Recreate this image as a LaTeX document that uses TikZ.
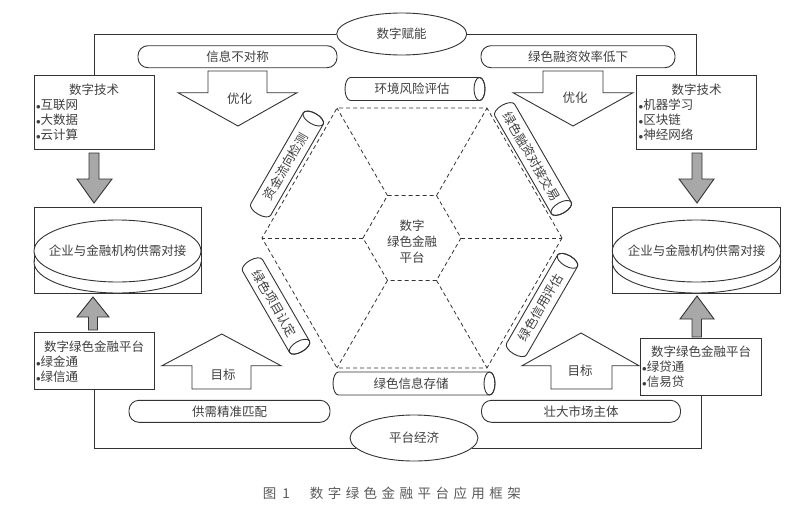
\documentclass[tikz,border=0pt]{standalone}
\usepackage{fontspec}
\setmainfont{Noto Sans CJK SC}
\usetikzlibrary{shapes.geometric}
\definecolor{ln}{HTML}{333333}
\definecolor{tx}{HTML}{404040}
\definecolor{gr}{HTML}{A8A8A8}
\definecolor{capc}{HTML}{5A5A5A}
\newcommand\mybul{{\small$\bullet$}}
% name, center, angle, length, text
\newcommand\mycyl[5]{%
 \begin{scope}[shift={#2}, rotate=#3]
  \pgfmathsetmacro\cylhh{#4/2}
  \draw[lnk, fill=white] (-\cylhh+5.5,-11.5) -- (\cylhh-5.5,-11.5)
     arc[start angle=90, end angle=-90, x radius=5.5pt, y radius=11.5pt]
     -- (-\cylhh+5.5,11.5)
     arc[start angle=270, end angle=90, x radius=5.5pt, y radius=11.5pt] -- cycle;
  \draw[lnk] (\cylhh-5.5,0) ellipse [x radius=5.5pt, y radius=11.5pt];
  \node[lbl, rotate=#3] (#1) at (-3,0) {#5};
 \end{scope}}
\begin{document}
\begin{tikzpicture}[x=1pt,y=-1pt,
  every node/.style={font=\fontsize{12.5}{15}\selectfont},
  lnk/.style={draw=ln, line width=0.9pt},
  box/.style={draw=ln, line width=0.9pt, rectangle, text=tx, inner xsep=2pt, inner ysep=0pt, align=left},
  pill/.style={draw=ln, line width=0.9pt, rectangle, rounded corners=10pt, minimum height=22, text=tx, inner sep=0pt},
  ell/.style={draw=ln, line width=0.9pt, ellipse, fill=white, inner sep=0pt, text=tx},
  lbl/.style={text=tx, inner sep=0pt},
  hollow/.style={draw=ln, line width=0.9pt, fill=white},
  solidarr/.style={draw=ln, line width=0.9pt, fill=gr},
  hexln/.style={draw=ln, line width=0.8pt, dash pattern=on 4pt off 3pt}]
\fill[white] (0,0) rectangle (800,506);
\useasboundingbox (0,0) rectangle (800,506);

% top / bottom ellipses
\node[ell, minimum width=130, minimum height=42] (fn) at (401.7,34) {数字赋能};
\node[ell, minimum width=128, minimum height=46] (pj) at (414,438) {平台经济};

% side boxes
\node[box, text width=116pt, minimum height=74] (dtL) at (94,112)
  {{\centering 数字技术\par}\mybul 互联网\par\mybul 大数据\par\mybul 云计算};
\node[box, text width=116pt, minimum height=74] (dtR) at (696.7,112)
  {{\centering 数字技术\par}\mybul 机器学习\par\mybul 区块链\par\mybul 神经网络};
\node[box, text width=116pt, minimum height=57] (ptL) at (94,361.4)
  {{\centering 数字绿色金融平台\par}\mybul 绿金通\par\mybul 绿信通};
\node[box, text width=117.7pt, minimum height=57] (ptR) at (701,366.5)
  {{\centering 数字绿色金融平台\par}\mybul 绿贷通\par\mybul 信易贷};

% frame connectors
\draw[lnk] (dtL.north) |- (fn.west);
\draw[lnk] (fn.east) -| (dtR.north);
\draw[lnk] (ptL.south) |- (pj.190);
\draw[lnk] (pj.350) -| (ptR.south);

% middle boxes with discs
\node[draw=ln, line width=0.9pt, minimum width=167, minimum height=86, inner sep=0pt] (gxL) at (117.5,250) {};
\draw[lnk, fill=white] (117.5,262) ellipse [x radius=83.5pt, y radius=31pt];
\fill[white] (34,251) rectangle (201,262);
\draw[lnk] (34,251) -- (34,262) (201,251) -- (201,262);
\node[ell, minimum width=167, minimum height=62] (gxLe) at (117.5,251) {};
\node[lbl] (gxLt) at (gxLe) {企业与金融机构供需对接};

\node[draw=ln, line width=0.9pt, minimum width=168.4, minimum height=86, inner sep=0pt] (gxR) at (696.5,250) {};
\draw[lnk, fill=white] (696.5,262) ellipse [x radius=84.2pt, y radius=31pt];
\fill[white] (612.3,251) rectangle (780.7,262);
\draw[lnk] (612.3,251) -- (612.3,262) (780.7,251) -- (780.7,262);
\node[ell, minimum width=168.4, minimum height=62] (gxRe) at (696.5,251) {};
\node[lbl] (gxRt) at (gxRe) {企业与金融机构供需对接};

% gray arrows
\draw[solidarr] (89,153) -- (99,153) -- (99,179) -- (112,179) -- (94,203) -- (77,179) -- (89,179) -- cycle;
\draw[solidarr] (88.5,330) -- (97.5,330) -- (97.5,317) -- (109,317) -- (93,297) -- (77,317) -- (88.5,317) -- cycle;
\draw[solidarr] (692,153) -- (702,153) -- (702,179) -- (714,179) -- (697,203) -- (679,179) -- (692,179) -- cycle;
\draw[solidarr] (692,337) -- (701.5,337) -- (701.5,319) -- (714,319) -- (697,296) -- (680,319) -- (692,319) -- cycle;

% pills
\node[pill, minimum width=199] (xx) at (237.5,56.7) {信息不对称};
\node[pill, minimum width=194] (rz) at (578,56.7) {绿色融资效率低下};
\node[pill, minimum width=201] (gp) at (229.5,411.3) {供需精准匹配};
\node[pill, minimum width=199] (zd) at (581,411.3) {壮大市场主体};

% hollow arrows
\draw[hollow] (208,71) -- (267,71) -- (267,92.7) -- (297,92.7) -- (238,126) -- (178,92.7) -- (208,92.7) -- cycle;
\draw[hollow] (543,71) -- (603,71) -- (603,92.7) -- (633,92.7) -- (573,126) -- (513,92.7) -- (543,92.7) -- cycle;
\draw[hollow] (192,389) -- (251,389) -- (251,365.7) -- (281,365.7) -- (221.7,334) -- (162,365.7) -- (192,365.7) -- cycle;
\draw[hollow] (551,389) -- (612,389) -- (612,365.7) -- (639,365.7) -- (581,333) -- (522,365.7) -- (551,365.7) -- cycle;
\node[lbl] (yh1) at (239.5,98.3) {优化};
\node[lbl] (yh2) at (575,98) {优化};
\node[lbl] (mb1) at (223,375) {目标};
\node[lbl] (mb2) at (580,371) {目标};

% hexagon
\begin{scope}[shift={(412,238)}]
\draw[hexln] (0:150) -- (60:150) -- (120:150) -- (180:150) -- (240:150) -- (300:150) -- cycle;
\draw[hexln] (0:49) -- (60:49) -- (120:49) -- (180:49) -- (240:49) -- (300:49) -- cycle;
\foreach \a in {0,60,...,300} \draw[hexln] (\a:49) -- (\a:150);
\end{scope}
\node[lbl, align=center, font=\fontsize{12.5}{16}\selectfont] (hub) at (412,242) {数字\\绿色金融\\平台};

% cylinders
\mycyl{c1}{(415,89)}{0}{140}{环境风险评估}
\mycyl{c2}{(414,383.5)}{0}{162}{绿色信息存储}
\mycyl{c3}{(287,164)}{60}{116}{资金流向检测}
\mycyl{c4}{(533,159)}{-60}{124}{绿色融资对接交易}
\mycyl{c5}{(276,306)}{-60}{105}{绿色项目认定}
\mycyl{c6}{(542,305)}{60}{113}{绿色信用评估}

% caption
\node[text=capc, inner sep=0pt, anchor=west, font=\fontsize{13.5}{16}\selectfont] (cap) at (262.7,493)
  {图\hspace{6pt}1\hspace{20pt}\addfontfeature{LetterSpace=33}数字绿色金融平台应用框架};
\end{tikzpicture}
\end{document}
